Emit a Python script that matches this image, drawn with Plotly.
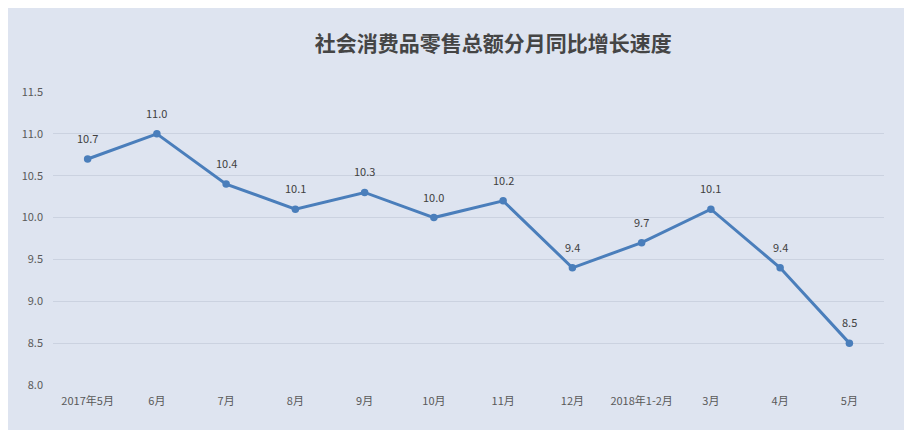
import plotly.graph_objects as go

categories = ["2017年5月", "6月", "7月", "8月", "9月", "10月", "11月", "12月", "2018年1-2月", "3月", "4月", "5月"]
values = [10.7, 11.0, 10.4, 10.1, 10.3, 10.0, 10.2, 9.4, 9.7, 10.1, 9.4, 8.5]
y_ticks = [8.0, 8.5, 9.0, 9.5, 10.0, 10.5, 11.0, 11.5]
title_text = "社会消费品零售总额分月同比增长速度"

BG = "#DEE4F0"
FONT = "Noto Sans CJK SC, Microsoft YaHei, sans-serif"

fig = go.Figure()
fig.add_trace(go.Scatter(
    x=categories, y=values,
    mode="lines+markers",
    line=dict(color="#4A7EBB", width=3),
    marker=dict(color="#4A7EBB", size=7.5),
    cliponaxis=False,
    hoverinfo="skip",
))
for c, v in zip(categories, values):
    fig.add_annotation(x=c, y=v, text=f"{v:.1f}", showarrow=False, yshift=21,
                       font=dict(family=FONT, size=11, color="#404040"))

fig.update_layout(
    width=912, height=430,
    paper_bgcolor=BG, plot_bgcolor=BG,
    margin=dict(l=45, r=36, t=84, b=53),
    showlegend=False,
    title=dict(text=f"<b>{title_text}</b>", x=0.532, xanchor="center", y=0.918, yanchor="middle",
               font=dict(family=FONT, size=21, color="#454545")),
)
fig.update_xaxes(
    type="category", range=[-0.5, 11.5],
    showgrid=False, zeroline=False, showline=False, ticks="",
    ticklabelstandoff=8,
    tickfont=dict(family=FONT, size=11, color="#595959"),
)
fig.update_yaxes(
    range=[8.0, 11.5], tickvals=y_ticks, ticktext=[f"{t:.1f}" for t in y_ticks],
    showgrid=True, gridcolor="#CBD2E0", gridwidth=1, zeroline=False, showline=False,
    ticks="", ticklabelstandoff=9,
    tickfont=dict(family=FONT, size=11, color="#595959"),
)

fig.write_html("out.html")
